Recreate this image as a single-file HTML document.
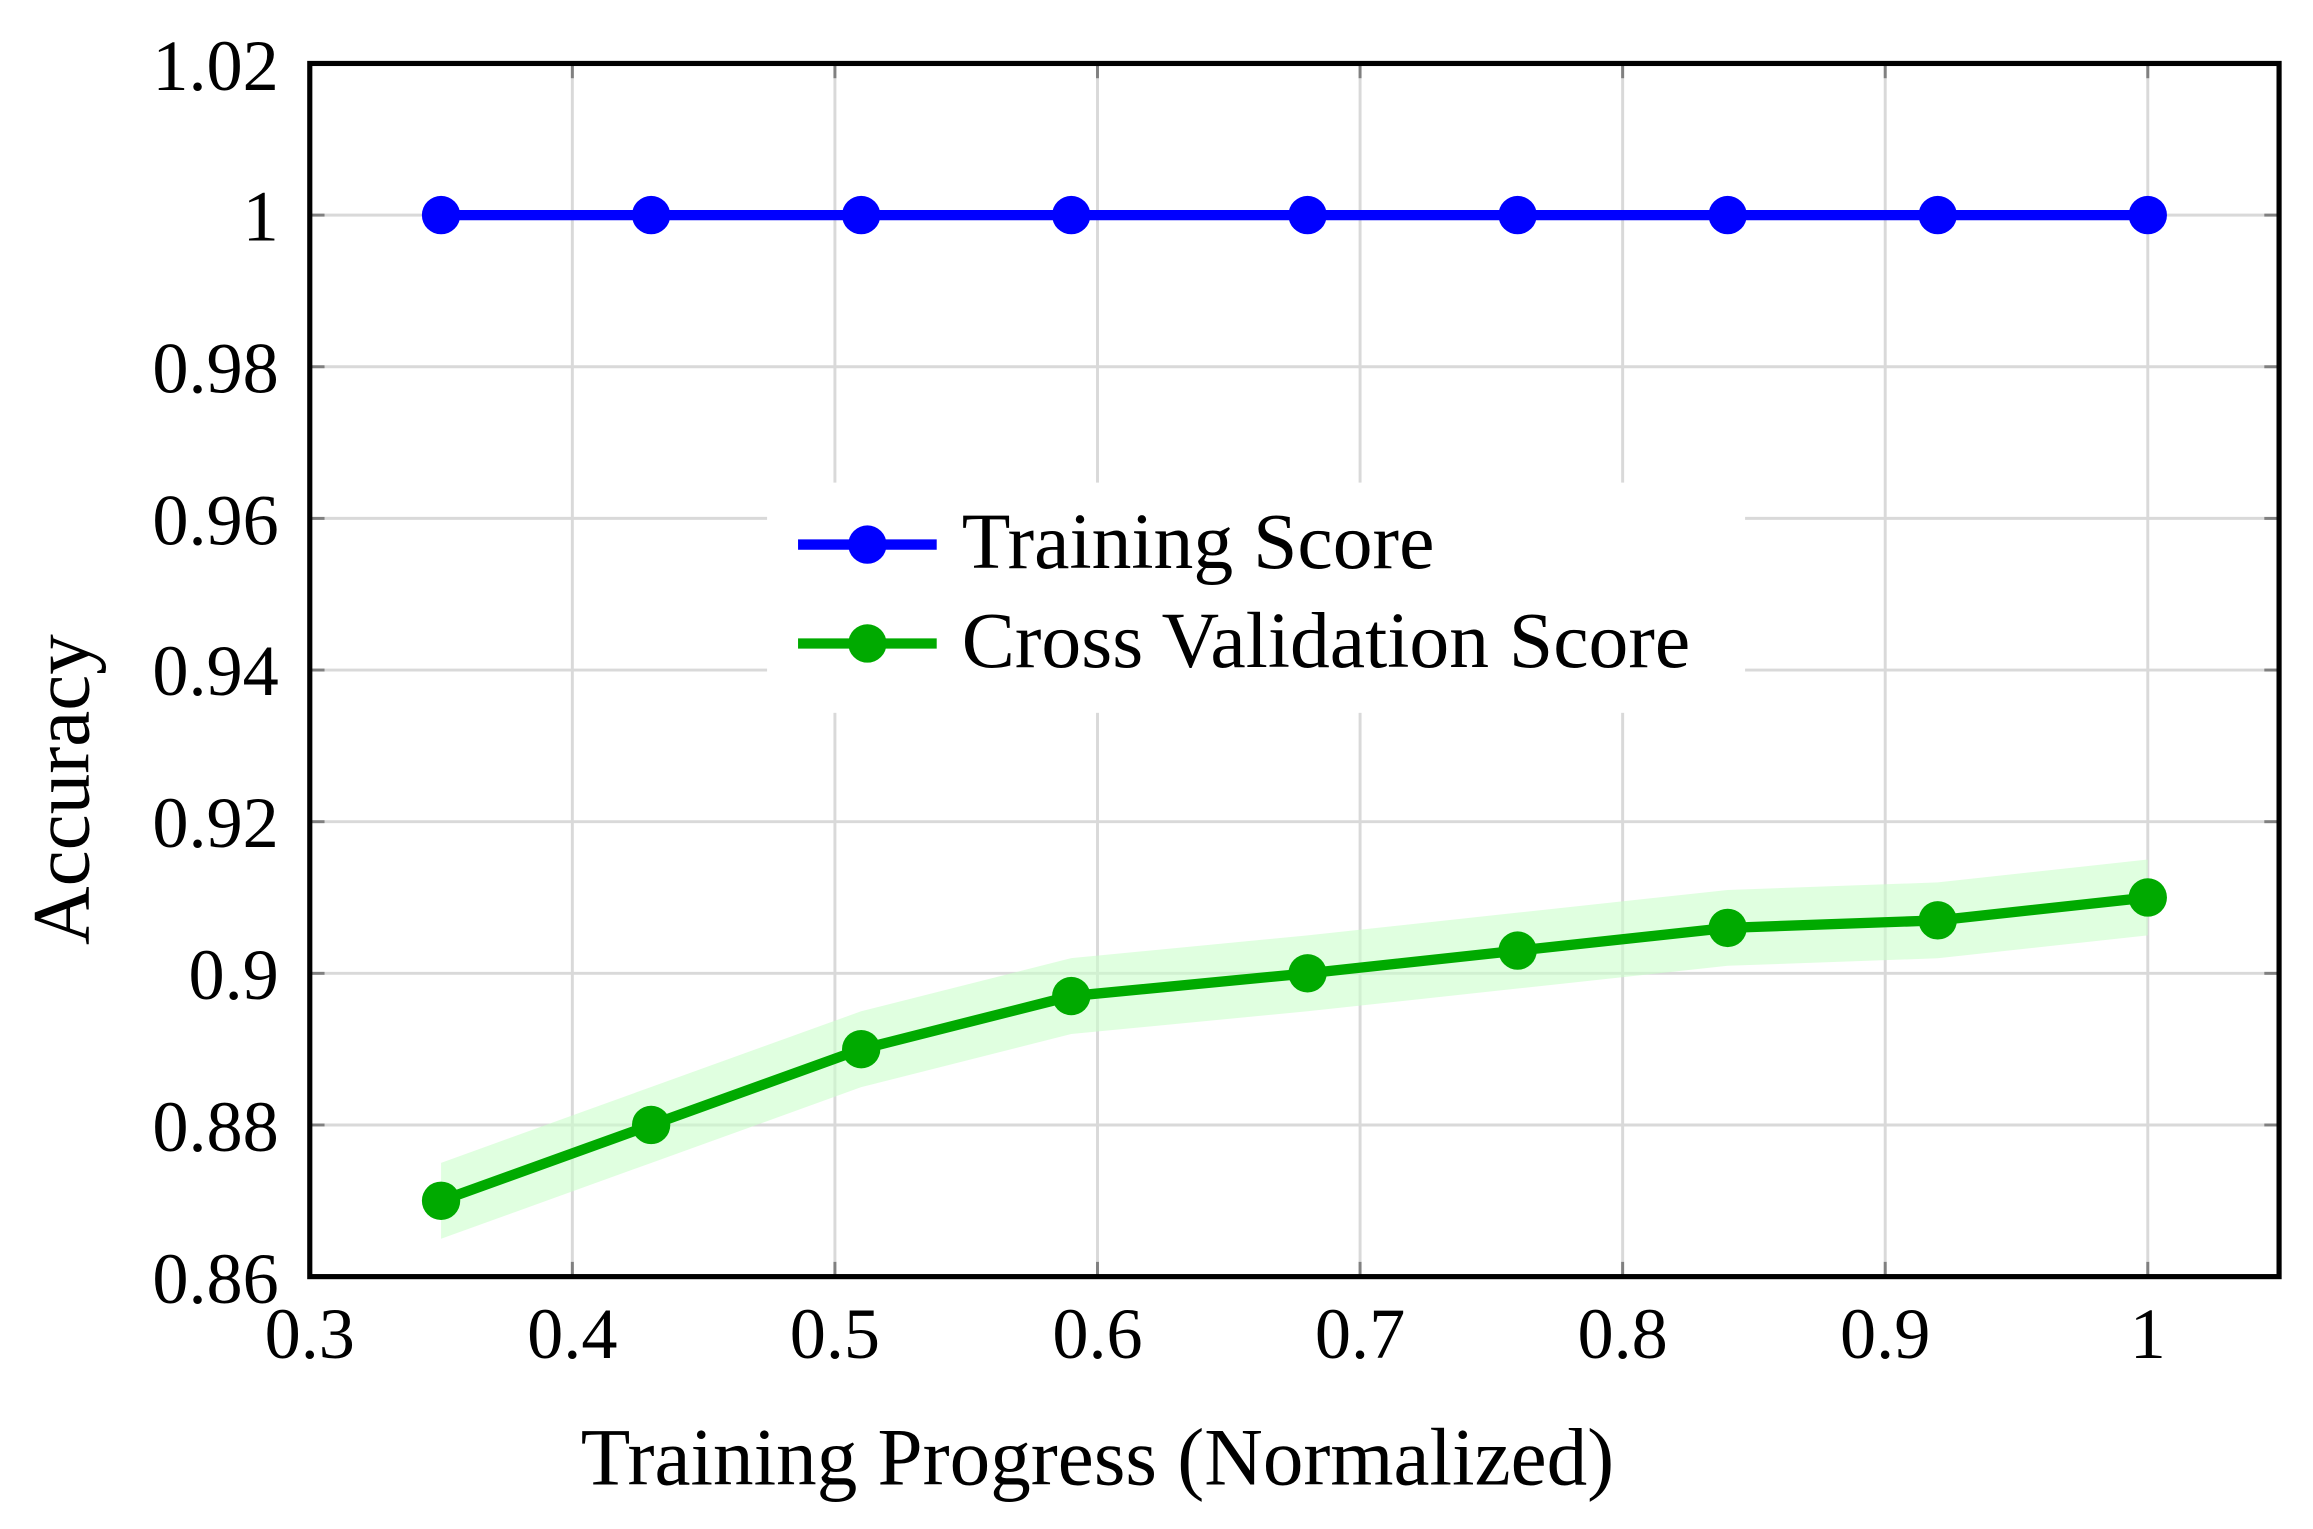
<!DOCTYPE html>
<html><head><meta charset="utf-8"><style>html,body{margin:0;padding:0;background:#fff}svg{display:block}</style></head>
<body>
<svg width="2313" height="1529" viewBox="0 0 1568 1036" preserveAspectRatio="none" xmlns="http://www.w3.org/2000/svg" font-family="Liberation Serif, serif">
<g stroke="#d9d9d9" stroke-width="2">
<line x1="388" y1="43" x2="388" y2="865"/><line x1="566" y1="43" x2="566" y2="865"/><line x1="744" y1="43" x2="744" y2="865"/><line x1="922" y1="43" x2="922" y2="865"/><line x1="1100" y1="43" x2="1100" y2="865"/><line x1="1278" y1="43" x2="1278" y2="865"/><line x1="1456" y1="43" x2="1456" y2="865"/>
<line x1="210" y1="145.75" x2="1545" y2="145.75"/><line x1="210" y1="248.5" x2="1545" y2="248.5"/><line x1="210" y1="351.25" x2="1545" y2="351.25"/><line x1="210" y1="454" x2="1545" y2="454"/><line x1="210" y1="556.75" x2="1545" y2="556.75"/><line x1="210" y1="659.5" x2="1545" y2="659.5"/><line x1="210" y1="762.25" x2="1545" y2="762.25"/>
</g>
<polygon fill="#ccffcc" opacity="0.6" points="299,787.9 441.4,736.5 583.8,685.2 726.2,649.2 886.4,633.8 1028.8,618.4 1171.2,603 1313.6,597.9 1456,582.4 1456,633.8 1313.6,649.3 1171.2,654.4 1028.8,669.8 886.4,685.2 726.2,700.6 583.8,736.6 441.4,788 299,839.3"/>
<polyline fill="none" stroke="#0000ff" stroke-width="7" points="299,145.75 1456,145.75"/>
<g fill="#0000ff"><circle cx="299" cy="145.75" r="13"/><circle cx="441.4" cy="145.75" r="13"/><circle cx="583.8" cy="145.75" r="13"/><circle cx="726.2" cy="145.75" r="13"/><circle cx="886.4" cy="145.75" r="13"/><circle cx="1028.8" cy="145.75" r="13"/><circle cx="1171.2" cy="145.75" r="13"/><circle cx="1313.6" cy="145.75" r="13"/><circle cx="1456" cy="145.75" r="13"/></g>
<polyline fill="none" stroke="#00aa00" stroke-width="7" stroke-linejoin="round" points="299,813.6 441.4,762.25 583.8,710.9 726.2,674.9 886.4,659.5 1028.8,644.1 1171.2,628.7 1313.6,623.6 1456,608.1"/>
<g fill="#00aa00"><circle cx="299" cy="813.6" r="13"/><circle cx="441.4" cy="762.25" r="13"/><circle cx="583.8" cy="710.9" r="13"/><circle cx="726.2" cy="674.9" r="13"/><circle cx="886.4" cy="659.5" r="13"/><circle cx="1028.8" cy="644.1" r="13"/><circle cx="1171.2" cy="628.7" r="13"/><circle cx="1313.6" cy="623.6" r="13"/><circle cx="1456" cy="608.1" r="13"/></g>
<rect x="520" y="327" width="663" height="156" fill="#fff"/>
<line x1="541" y1="369" x2="635" y2="369" stroke="#0000ff" stroke-width="7"/><circle cx="588" cy="369" r="13" fill="#0000ff"/>
<line x1="541" y1="436" x2="635" y2="436" stroke="#00aa00" stroke-width="7"/><circle cx="588" cy="436" r="13" fill="#00aa00"/>
<g font-size="54" fill="#000"><text x="652" y="385">Training Score</text><text x="652" y="452">Cross Validation Score</text></g>
<g stroke="#808080" stroke-width="2">
<line x1="210" y1="145.75" x2="220" y2="145.75"/><line x1="210" y1="248.5" x2="220" y2="248.5"/><line x1="210" y1="351.25" x2="220" y2="351.25"/><line x1="210" y1="454" x2="220" y2="454"/><line x1="210" y1="556.75" x2="220" y2="556.75"/><line x1="210" y1="659.5" x2="220" y2="659.5"/><line x1="210" y1="762.25" x2="220" y2="762.25"/>
<line x1="1535" y1="145.75" x2="1545" y2="145.75"/><line x1="1535" y1="248.5" x2="1545" y2="248.5"/><line x1="1535" y1="351.25" x2="1545" y2="351.25"/><line x1="1535" y1="454" x2="1545" y2="454"/><line x1="1535" y1="556.75" x2="1545" y2="556.75"/><line x1="1535" y1="659.5" x2="1545" y2="659.5"/><line x1="1535" y1="762.25" x2="1545" y2="762.25"/>
<line x1="388" y1="855" x2="388" y2="865"/><line x1="566" y1="855" x2="566" y2="865"/><line x1="744" y1="855" x2="744" y2="865"/><line x1="922" y1="855" x2="922" y2="865"/><line x1="1100" y1="855" x2="1100" y2="865"/><line x1="1278" y1="855" x2="1278" y2="865"/><line x1="1456" y1="855" x2="1456" y2="865"/>
<line x1="388" y1="43" x2="388" y2="53"/><line x1="566" y1="43" x2="566" y2="53"/><line x1="744" y1="43" x2="744" y2="53"/><line x1="922" y1="43" x2="922" y2="53"/><line x1="1100" y1="43" x2="1100" y2="53"/><line x1="1278" y1="43" x2="1278" y2="53"/><line x1="1456" y1="43" x2="1456" y2="53"/>
</g>
<rect x="210" y="43" width="1335" height="822" fill="none" stroke="#000" stroke-width="3.5"/>
<g font-size="49" fill="#000" text-anchor="end">
<text x="189" y="61">1.02</text><text x="189" y="163">1</text><text x="189" y="266">0.98</text><text x="189" y="369">0.96</text><text x="189" y="471">0.94</text><text x="189" y="574">0.92</text><text x="189" y="677">0.9</text><text x="189" y="780">0.88</text><text x="189" y="883">0.86</text>
</g>
<g font-size="49" fill="#000" text-anchor="middle">
<text x="210" y="920">0.3</text><text x="388" y="920">0.4</text><text x="566" y="920">0.5</text><text x="744" y="920">0.6</text><text x="922" y="920">0.7</text><text x="1100" y="920">0.8</text><text x="1278" y="920">0.9</text><text x="1456" y="920">1</text>
</g>
<text x="744" y="1006" font-size="55" text-anchor="middle">Training Progress (Normalized)</text>
<text transform="translate(60,535) rotate(-90)" font-size="55" text-anchor="middle">Accuracy</text>
</svg>
</body></html>
